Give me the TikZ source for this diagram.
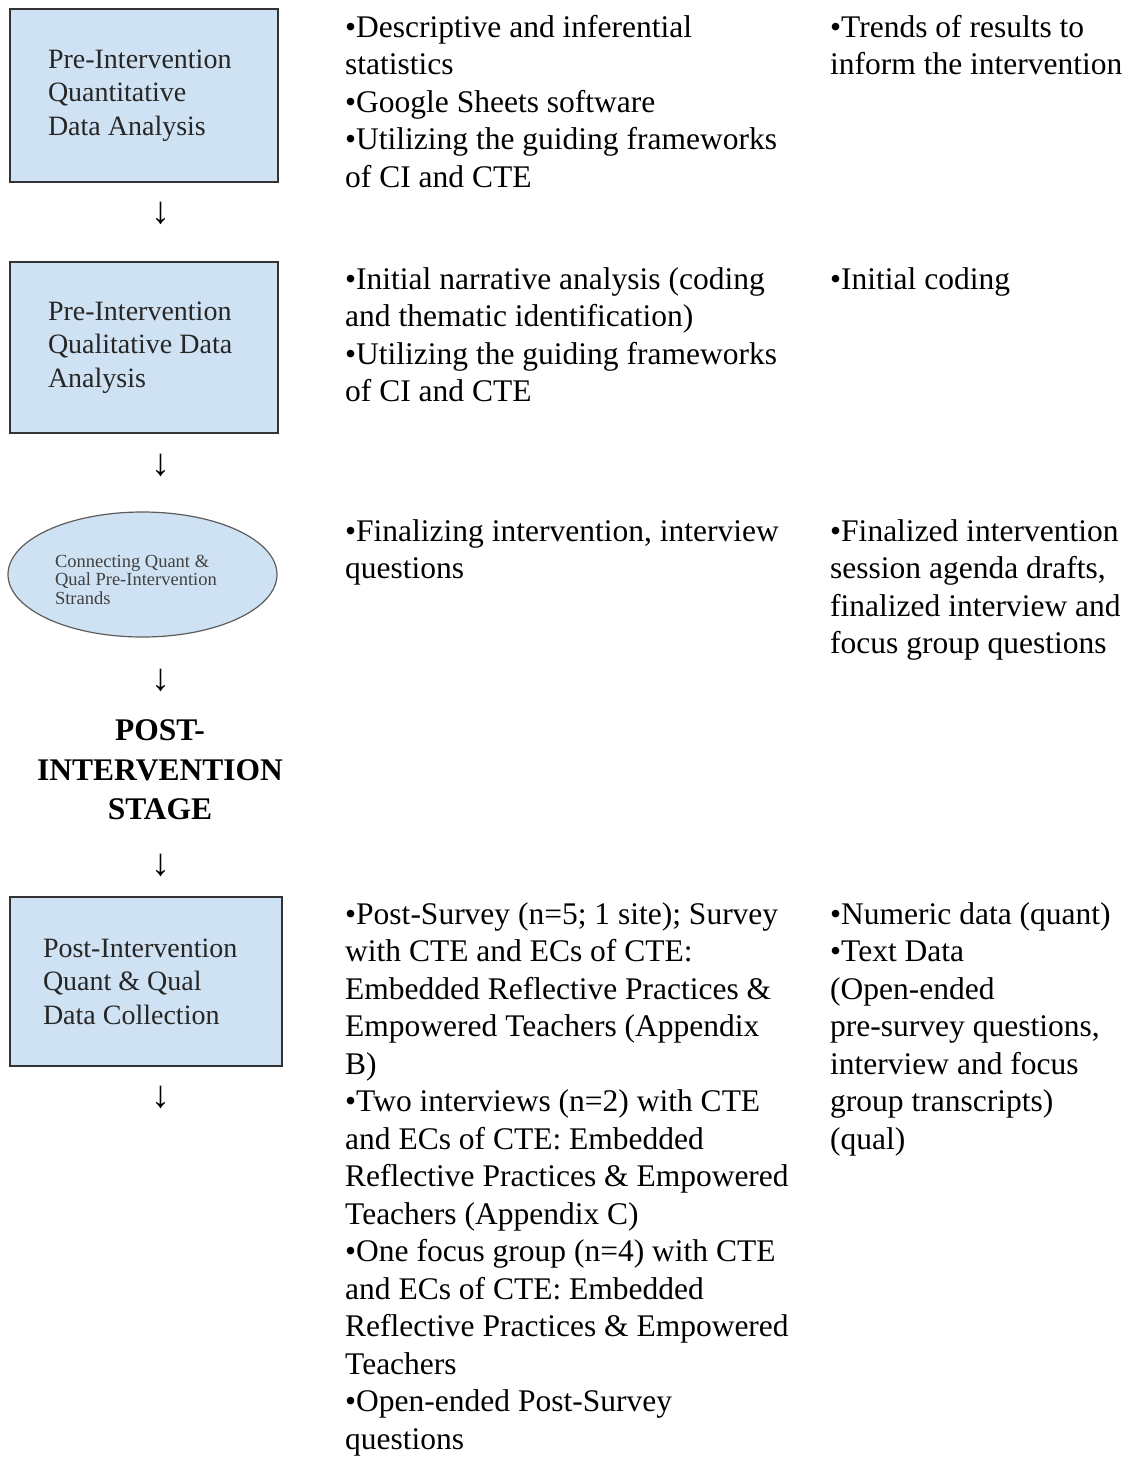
\documentclass[tikz,border=0pt]{standalone}
\usepackage{fontspec}
\setmainfont{Liberation Serif}
\usetikzlibrary{shapes.geometric}
\definecolor{boxblue}{HTML}{CFE2F3}
\definecolor{boxline}{HTML}{333333}
\tikzset{
  stagebox/.style={draw=boxline, line width=1.5pt, fill=boxblue, inner sep=0pt,
    align=flush left, text=black!85, font=\fontsize{28}{33.5}\selectfont},
  linkoval/.style={ellipse, draw=boxline!80, line width=1.2pt, fill=boxblue,
    inner sep=0pt, minimum width=269pt, minimum height=125pt},
  ovaltext/.style={inner sep=0pt, align=flush left, text=black!75, text width=175pt,
    font=\fontsize{18.5}{18.5}\selectfont},
  % anchored at the baseline of the last line
  notes/.style={anchor=base west, inner sep=0pt, align=left,
    font=\fontsize{31.5}{37.5}\selectfont},
  downarrow/.style={inner sep=0pt, font=\fontsize{38}{38}\selectfont},
}
\begin{document}
\begin{tikzpicture}[x=1pt, y=-1pt]
  \useasboundingbox (0,0) rectangle (1131,1460);
  % pre-intervention quantitative strand
  \node[stagebox, minimum width=268pt, minimum height=173pt, text width=192pt]
    (quant) at (144,95.5) {Pre-Intervention\\Quantitative\\Data Analysis};
  \node[notes] (quantdo) at (345,187) {•Descriptive and inferential\\statistics\\•Google Sheets software\\•Utilizing the guiding frameworks\\of CI and CTE};
  \node[notes] (quantout) at (830,74.5) {•Trends of results to\\inform the intervention};
  \node[downarrow] (arr1) at (161,213) {↓};
  % pre-intervention qualitative strand
  \node[stagebox, minimum width=268pt, minimum height=171pt, text width=192pt]
    (qual) at (144,347.5) {Pre-Intervention\\Qualitative Data\\Analysis};
  \node[notes] (qualdo) at (345,401.5) {•Initial narrative analysis (coding\\and thematic identification)\\•Utilizing the guiding frameworks\\of CI and CTE};
  \node[notes] (qualout) at (830,289) {•Initial coding};
  \node[downarrow] (arr2) at (161,465) {↓};
  % connecting the strands
  \node[linkoval] (link) at (142.5,574.5) {};
  \node[ovaltext] (linktext) at ([yshift=-5pt]link.center) {Connecting Quant \&\\Qual Pre-Intervention\\Strands};
  \node[notes] (linkdo) at (345,578.5) {•Finalizing intervention, interview\\questions};
  \node[notes] (linkout) at (830,653.5) {•Finalized intervention\\session agenda drafts,\\finalized interview and\\focus group questions};
  \node[downarrow] (arr3) at (161,680) {↓};
  % stage heading
  \node[align=center, inner sep=0pt, font=\bfseries\fontsize{31.5}{39.5}\selectfont]
    (stage) at (160,770) {POST-\\INTERVENTION\\STAGE};
  \node[downarrow] (arr4) at (161,865) {↓};
  % post-intervention collection
  \node[stagebox, minimum width=272pt, minimum height=169pt, text width=206pt]
    (post) at (146,981.5) {Post-Intervention\\Quant \& Qual\\Data Collection};
  \node[notes] (postdo) at (345,1449) {•Post-Survey (n=5; 1 site); Survey\\with CTE and ECs of CTE:\\Embedded Reflective Practices \&\\Empowered Teachers (Appendix\\B)\\•Two interviews (n=2) with CTE\\and ECs of CTE: Embedded\\Reflective Practices \& Empowered\\Teachers (Appendix C)\\•One focus group (n=4) with CTE\\and ECs of CTE: Embedded\\Reflective Practices \& Empowered\\Teachers\\•Open-ended Post-Survey\\questions};
  \node[notes] (postout) at (830,1149) {•Numeric data (quant)\\•Text Data\\(Open-ended\\pre-survey questions,\\interview and focus\\group transcripts)\\(qual)};
  \node[downarrow] (arr5) at (161,1097) {↓};
\end{tikzpicture}
\end{document}
